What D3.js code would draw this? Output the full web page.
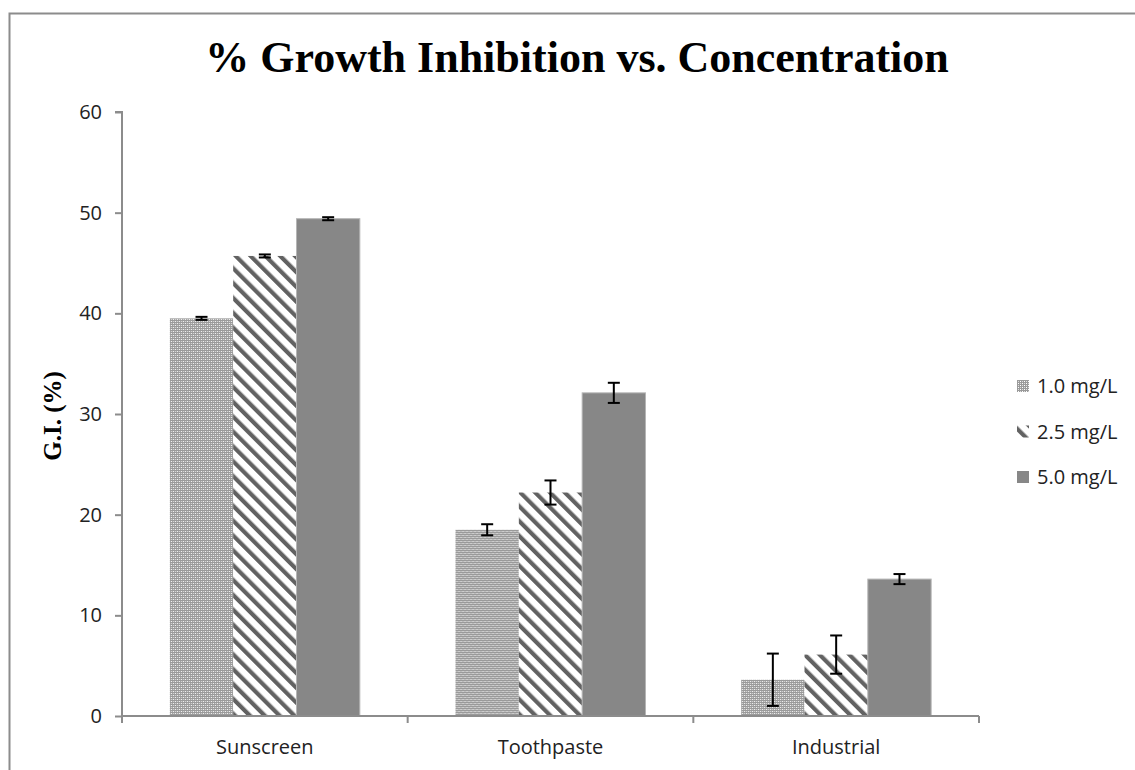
<!DOCTYPE html>
<html>
<head>
<meta charset="utf-8">
<script src="https://cdn.jsdelivr.net/npm/d3@7"></script>
<style>
  body { margin: 0; background: #fff; }
  svg { display: block; }
</style>
</head>
<body>
<svg id="chart" width="1135" height="770"></svg>
<script>
const categories = ["Sunscreen", "Toothpaste", "Industrial"];
const seriesNames = ["1.0 mg/L", "2.5 mg/L", "5.0 mg/L"];
const values1 = [39.5, 18.5, 3.6];
const values2 = [45.7, 22.2, 6.1];
const values3 = [49.4, 32.1, 13.6];
const errors1 = [0.15, 0.55, 2.6];
const errors2 = [0.15, 1.2, 1.9];
const errors3 = [0.15, 1.0, 0.5];
const yTicks = [0, 10, 20, 30, 40, 50, 60];

(function () {
const seriesValues = [values1, values2, values3];
const seriesErrors = [errors1, errors2, errors3];

const svg = d3.select("#chart");
const defs = svg.append("defs");

// pattern: dotted / checkered
const p1 = defs.append("pattern").attr("id", "pat1").attr("patternUnits", "userSpaceOnUse")
  .attr("width", 4).attr("height", 4);
p1.append("rect").attr("width", 4).attr("height", 4).attr("fill", "#9a9a9a");
p1.append("rect").attr("x", 1).attr("y", 1).attr("width", 1).attr("height", 1).attr("fill", "#ffffff");
p1.append("rect").attr("x", 3).attr("y", 3).attr("width", 1).attr("height", 1).attr("fill", "#ffffff");
p1.append("rect").attr("x", 3).attr("y", 1).attr("width", 1).attr("height", 1).attr("fill", "#dcdcdc");
p1.append("rect").attr("x", 1).attr("y", 3).attr("width", 1).attr("height", 1).attr("fill", "#dcdcdc");

// pattern: diagonal stripes "\"
const p2 = defs.append("pattern").attr("id", "pat2").attr("patternUnits", "userSpaceOnUse")
  .attr("width", 10.5).attr("height", 10.5).attr("patternTransform", "rotate(-45)");
p2.append("rect").attr("width", 10.5).attr("height", 10.5).attr("fill", "#ffffff");
p2.append("rect").attr("x", 0).attr("y", 0).attr("width", 4.2).attr("height", 10.5).attr("fill", "#626262");

const fills = ["url(#pat1)", "url(#pat2)", "#878787"];

// outer frame
svg.append("rect").attr("x", 9.5).attr("y", 13.5).attr("width", 1140).attr("height", 800)
  .attr("fill", "none").attr("stroke", "#8c8c8c").attr("stroke-width", 2);

const pLeft = 122, pRight = 979, pTop = 112, pBottom = 716;

const x0 = d3.scaleBand().domain(categories).range([pLeft, pRight])
  .paddingInner(0.335).paddingOuter(0.1675);
const x1 = d3.scaleBand().domain(d3.range(3)).range([0, x0.bandwidth()]);
const y = d3.scaleLinear().domain([0, 60]).range([pBottom, pTop]);

const sans = "Open Sans, Liberation Sans, sans-serif";
const serif = "Liberation Serif, Times New Roman, serif";

// title
svg.append("text").attr("x", 577).attr("y", 72).attr("text-anchor", "middle")
  .attr("font-family", serif).attr("font-weight", "bold")
  .attr("font-size", 44).attr("fill", "#000").text("% Growth Inhibition vs. Concentration");

// y label
svg.append("text").attr("transform", "translate(61,416) rotate(-90)").attr("text-anchor", "middle")
  .attr("font-family", serif).attr("font-weight", "bold")
  .attr("font-size", 25).attr("fill", "#000").text("G.I. (%)");

// bars
const groups = svg.append("g").selectAll("g").data(categories).join("g")
  .attr("transform", d => `translate(${x0(d)},0)`);

seriesValues.forEach((vals, si) => {
  groups.append("rect")
    .attr("x", x1(si))
    .attr("y", (d, ci) => y(vals[ci]))
    .attr("width", x1.bandwidth())
    .attr("height", (d, ci) => y(0) - y(vals[ci]))
    .attr("fill", fills[si])
    .attr("stroke", si === 2 ? "#b5b5b5" : "none")
    .attr("stroke-width", si === 2 ? 1 : 0);
});

// error bars
seriesValues.forEach((vals, si) => {
  const errs = seriesErrors[si];
  groups.each(function(d, ci) {
    const g = d3.select(this);
    const cx = x1(si) + x1.bandwidth() / 2;
    const yt = y(vals[ci] + errs[ci]), yb = y(vals[ci] - errs[ci]);
    g.append("line").attr("x1", cx).attr("x2", cx).attr("y1", yt).attr("y2", yb)
      .attr("stroke", "#000").attr("stroke-width", 2);
    [yt, yb].forEach(yy => g.append("line").attr("x1", cx - 6).attr("x2", cx + 6)
      .attr("y1", yy).attr("y2", yy).attr("stroke", "#000").attr("stroke-width", 2));
  });
});

// y axis
const yAxis = svg.append("g").attr("transform", `translate(${pLeft},0)`)
  .call(d3.axisLeft(y).tickValues(yTicks).tickSize(7).tickPadding(13));
yAxis.select(".domain").attr("stroke", "#8c8c8c").attr("stroke-width", 2)
  .attr("d", `M-7,${pTop}H0V${pBottom}`);
yAxis.selectAll(".tick line").attr("stroke", "#8c8c8c").attr("stroke-width", 2);
yAxis.selectAll(".tick text").attr("font-family", sans)
  .attr("font-size", 20).attr("fill", "#222");

// x axis
const xAxis = svg.append("g").attr("transform", `translate(0,${pBottom})`)
  .call(d3.axisBottom(x0).tickSize(0).tickPadding(24));
xAxis.select(".domain").attr("stroke", "#8c8c8c").attr("stroke-width", 2)
  .attr("d", `M${pLeft},0H${pRight}`);
xAxis.selectAll(".tick text").attr("font-family", sans)
  .attr("font-size", 20).attr("fill", "#222");
const bounds = [pLeft].concat(categories.map(c => x0(c) - x0.step() * x0.paddingInner() / 2 + x0.step()));
xAxis.selectAll(".bound").data(bounds).join("line").attr("class", "bound")
  .attr("x1", d => d).attr("x2", d => d).attr("y1", 0).attr("y2", 7)
  .attr("stroke", "#8c8c8c").attr("stroke-width", 2);

// legend
const legend = svg.append("g").selectAll("g").data(seriesNames).join("g")
  .attr("transform", (d, i) => `translate(1017,${386 + i * 45.5})`);
legend.append("rect").attr("x", 0).attr("y", -6).attr("width", 12).attr("height", 12)
  .attr("fill", (d, i) => fills[i]);
legend.append("text").attr("x", 20).attr("y", 7)
  .attr("font-family", sans).attr("font-size", 20)
  .attr("fill", "#222").text(d => d);
})();
</script>
</body>
</html>
